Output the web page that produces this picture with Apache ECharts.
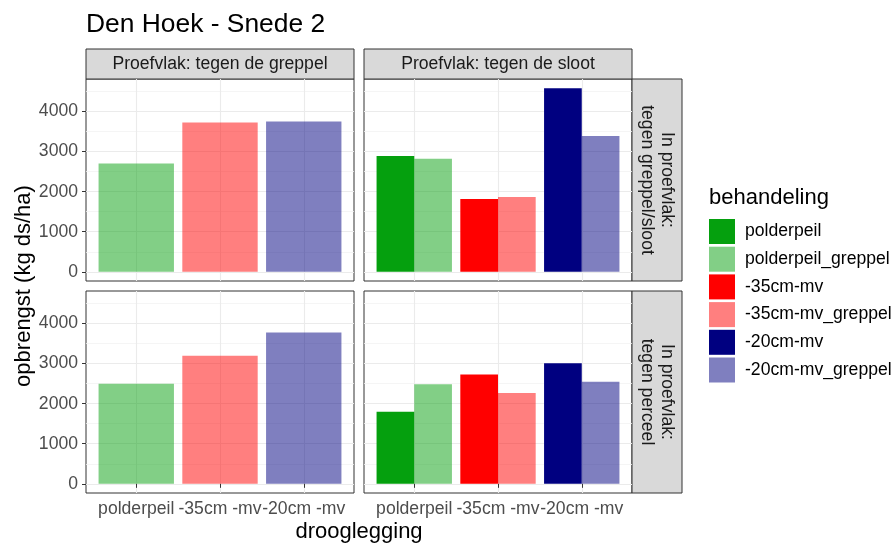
<!DOCTYPE html>
<html>
<head>
<meta charset="utf-8">
<script src="https://cdn.jsdelivr.net/npm/echarts@6/dist/echarts.min.js"></script>
<style>
  html, body { margin: 0; padding: 0; background: #fff; }
  #chart { width: 896px; height: 544px; }
</style>
</head>
<body>
<div id="chart"></div>
<script>
// drooglegging categories along x
const categories = ['polderpeil', '-35cm -mv', '-20cm -mv'];
// legend entries (behandeling)
const behandeling = ['polderpeil', 'polderpeil_greppel', '-35cm-mv', '-35cm-mv_greppel', '-20cm-mv', '-20cm-mv_greppel'];
// facet labels
const colFacets = ['Proefvlak: tegen de greppel', 'Proefvlak: tegen de sloot'];
const rowFacets = [['In proefvlak:', 'tegen greppel/sloot'], ['In proefvlak:', 'tegen perceel']];

// opbrengst (kg ds/ha) per panel
const greppelTopLeft = [2705, 3726, 3751];
const greppelBottomLeft = [2497, 3194, 3776];
const slootTop = [2889, 1818, 4583];
const slootGreppelTop = [2822, 1868, 3387];
const slootBottom = [1800, 2731, 3012];
const slootGreppelBottom = [2482, 2265, 2547];

// y axis ticks and minor grid lines
const yTicks = [0, 1000, 2000, 3000, 4000];
const yMinor = [500, 1500, 2500, 3500, 4500];

// fill colours per drooglegging
const darkColors = ['#05A00E', '#FF0000', '#000080'];
const lightColors = ['rgba(5,160,14,0.5)', 'rgba(255,0,0,0.5)', 'rgba(0,0,128,0.5)'];
const legendColors = [darkColors[0], lightColors[0], darkColors[1], lightColors[1], darkColors[2], lightColors[2]];

const FONT = "'Liberation Sans', Arial, sans-serif";
const layout = {
  panelLeft: [86, 364], panelTop: [79, 291],
  panelW: 268, panelH: 202,
  stripTop: 49, stripH: 30, stripW: 50
};

// shared y range with 5% padding on both sides, x range with 0.6 padding
const allValues = [].concat(greppelTopLeft, greppelBottomLeft, slootTop, slootGreppelTop, slootBottom, slootGreppelBottom);
const dataMax = Math.max(...allValues);
const yMin = -0.05 * dataMax;
const yMax = 1.05 * dataMax;
const xMin = 1 - 0.6;
const xMax = categories.length + 0.6;
const xTickVals = categories.map((c, i) => i + 1);

const grids = [], xAxes = [], yAxes = [], series = [];
const panels = [
  { r: 0, c: 0, sets: [[greppelTopLeft, lightColors]] },
  { r: 0, c: 1, sets: [[slootTop, darkColors], [slootGreppelTop, lightColors]] },
  { r: 1, c: 0, sets: [[greppelBottomLeft, lightColors]] },
  { r: 1, c: 1, sets: [[slootBottom, darkColors], [slootGreppelBottom, lightColors]] }
];

panels.forEach((p, idx) => {
  grids.push({
    left: layout.panelLeft[p.c], top: layout.panelTop[p.r],
    width: layout.panelW, height: layout.panelH,
    show: true, backgroundColor: '#fff', borderColor: '#333333', borderWidth: 1
  });
  xAxes.push({
    type: 'value', gridIndex: idx, min: xMin, max: xMax,
    axisLine: { show: false },
    axisTick: { show: p.r === 1, customValues: xTickVals, length: 4, lineStyle: { color: '#333333', width: 1 } },
    axisLabel: {
      show: p.r === 1, customValues: xTickVals, margin: 7,
      formatter: v => categories[Math.round(v) - 1],
      color: '#4D4D4D', fontSize: 17.6, fontFamily: FONT
    },
    splitLine: { show: true, lineStyle: { color: '#EBEBEB', width: 1.1 } }
  });
  yAxes.push({
    type: 'value', gridIndex: idx, min: yMin, max: yMax,
    axisLine: { show: false },
    axisTick: { show: p.c === 0, customValues: yTicks, length: 4, lineStyle: { color: '#333333', width: 1 } },
    axisLabel: {
      show: p.c === 0, customValues: yTicks, margin: 8,
      formatter: v => String(Math.round(v)),
      color: '#4D4D4D', fontSize: 17.6, fontFamily: FONT
    },
    splitLine: { show: true, lineStyle: { color: '#EBEBEB', width: 1.1 } }
  });
  yAxes.push({
    type: 'value', gridIndex: idx, min: yMin, max: yMax, position: 'left',
    axisLine: { show: false },
    axisTick: { show: false, customValues: yMinor },
    axisLabel: { show: false, customValues: yMinor },
    splitLine: { show: true, lineStyle: { color: '#F2F2F2', width: 0.8 } }
  });
  const single = p.sets.length === 1;
  p.sets.forEach(([vals, cols], k) => {
    series.push({
      type: 'bar', name: 'panel' + idx + '_' + k,
      xAxisIndex: idx, yAxisIndex: idx * 2,
      barWidth: single ? '90%' : '45%', barGap: '0%',
      silent: true, emphasis: { disabled: true },
      data: vals.map((v, i) => ({ value: [i + 1, v], itemStyle: { color: cols[i] } }))
    });
  });
});

// legend-only entries
behandeling.forEach((name, k) => {
  series.push({
    type: 'scatter', name: name, xAxisIndex: 0, yAxisIndex: 0, data: [],
    itemStyle: { color: legendColors[k], opacity: 1 }, silent: true
  });
});

const graphics = [];
graphics.push({
  type: 'text', x: 86, y: 25,
  style: { text: 'Den Hoek - Snede 2', fill: '#000', font: '26.4px ' + FONT, align: 'left', verticalAlign: 'middle' }
});
// column strips
colFacets.forEach((label, c) => {
  graphics.push({
    type: 'rect',
    shape: { x: layout.panelLeft[c], y: layout.stripTop, width: layout.panelW, height: layout.stripH },
    style: { fill: '#D9D9D9', stroke: '#333333', lineWidth: 1 }
  });
  graphics.push({
    type: 'text', x: layout.panelLeft[c] + layout.panelW / 2, y: layout.stripTop + layout.stripH / 2 + 0.5,
    style: { text: label, fill: '#1A1A1A', font: '17.6px ' + FONT, align: 'center', verticalAlign: 'middle' }
  });
});
// row strips
const stripX = layout.panelLeft[1] + layout.panelW;
rowFacets.forEach((lines, r) => {
  graphics.push({
    type: 'rect',
    shape: { x: stripX, y: layout.panelTop[r], width: layout.stripW, height: layout.panelH },
    style: { fill: '#D9D9D9', stroke: '#333333', lineWidth: 1 }
  });
  const cx = stripX + layout.stripW / 2;
  const cy = layout.panelTop[r] + layout.panelH / 2;
  lines.forEach((line, j) => {
    graphics.push({
      type: 'text', x: cx + (j === 0 ? 9.7 : -9.7), y: cy, rotation: -Math.PI / 2,
      style: { text: line, fill: '#1A1A1A', font: '17.6px ' + FONT, align: 'center', verticalAlign: 'middle' }
    });
  });
});
// axis titles
graphics.push({
  type: 'text', x: (layout.panelLeft[0] + stripX) / 2, y: 532,
  style: { text: 'drooglegging', fill: '#000', font: '22px ' + FONT, align: 'center', verticalAlign: 'middle' }
});
graphics.push({
  type: 'text', x: 24, y: (layout.panelTop[0] + layout.panelTop[1] + layout.panelH) / 2, rotation: Math.PI / 2,
  style: { text: 'opbrengst (kg ds/ha)', fill: '#000', font: '22px ' + FONT, align: 'center', verticalAlign: 'middle' }
});
// legend title
graphics.push({
  type: 'text', x: 709, y: 198,
  style: { text: 'behandeling', fill: '#000', font: '22px ' + FONT, align: 'left', verticalAlign: 'middle' }
});

const chart = echarts.init(document.getElementById('chart'), null, { renderer: 'canvas' });
chart.setOption({
  animation: false,
  backgroundColor: '#fff',
  textStyle: { fontFamily: FONT },
  grid: grids,
  xAxis: xAxes,
  yAxis: yAxes,
  legend: {
    data: behandeling, orient: 'vertical', left: 709, top: 219, padding: 0,
    itemWidth: 26, itemHeight: 25, itemGap: 2.7, icon: 'rect', selectedMode: false,
    textStyle: { fontSize: 17.6, color: '#000', fontFamily: FONT, padding: [0, 0, 0, 5] }
  },
  graphic: graphics,
  series: series
});
</script>
</body>
</html>
